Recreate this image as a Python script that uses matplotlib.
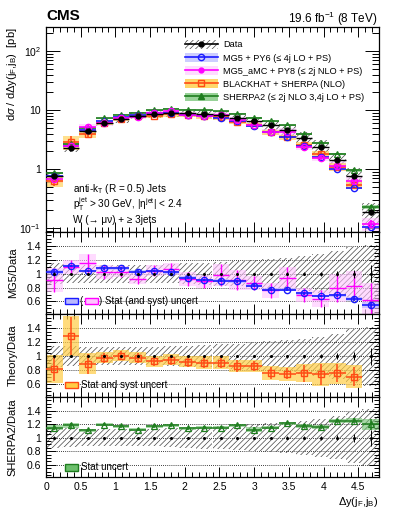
import numpy as np
import matplotlib
matplotlib.use('Agg')
import matplotlib.pyplot as plt
from matplotlib.patches import Patch, Rectangle
from matplotlib.lines import Line2D
from matplotlib.ticker import MultipleLocator, FixedLocator, LogLocator, NullFormatter, FuncFormatter

plt.rcParams['font.family'] = ['Liberation Sans', 'DejaVu Sans']
plt.rcParams['mathtext.fontset'] = 'custom'
plt.rcParams['mathtext.rm'] = 'Liberation Sans'
plt.rcParams['mathtext.it'] = 'Liberation Sans:italic'
plt.rcParams['mathtext.bf'] = 'Liberation Sans:bold'
plt.rcParams['hatch.linewidth'] = 0.5

# bins in delta y(jF, jB)
bin_centers = [0.12, 0.36, 0.60, 0.84, 1.08, 1.32, 1.56, 1.80, 2.04, 2.28,
               2.52, 2.76, 3.00, 3.24, 3.48, 3.72, 3.96, 4.20, 4.44, 4.68]
bin_width = 0.24

# measured cross section [pb]
data = [0.76, 2.25, 4.5, 6.1, 7.1, 8.1, 8.6, 8.9, 8.9, 8.7,
        8.3, 7.4, 6.5, 5.6, 4.6, 3.4, 2.4, 1.45, 0.76, 0.19]
data_syst = [0.15, 0.14, 0.13, 0.13, 0.13, 0.13, 0.13, 0.14, 0.15, 0.16,
             0.17, 0.18, 0.20, 0.21, 0.23, 0.25, 0.28, 0.32, 0.38, 0.42]
data_stat = [0.02, 0.015, 0.01, 0.01, 0.01, 0.01, 0.01, 0.01, 0.01, 0.01,
             0.01, 0.012, 0.014, 0.016, 0.02, 0.024, 0.03, 0.04, 0.06, 0.12]

# predictions [pb]
mg5 = [0.78, 2.50, 4.68, 6.59, 7.67, 8.34, 8.94, 9.08, 8.37, 7.92,
       7.47, 6.59, 5.40, 4.31, 3.54, 2.45, 1.63, 1.00, 0.48, 0.105]
amc = [0.69, 2.45, 5.18, 6.10, 7.24, 7.70, 8.86, 9.52, 8.37, 7.83,
       8.13, 6.73, 5.66, 4.26, 4.32, 2.35, 1.54, 1.15, 0.63, 0.118]
bh = [0.62, 2.90, 4.00, 5.98, 7.17, 7.94, 8.00, 8.46, 8.19, 7.92,
      7.55, 6.36, 5.59, 4.26, 3.45, 2.58, 1.78, 1.10, 0.54]
sherpa = [0.87, 2.66, 5.00, 7.26, 8.31, 9.07, 10.06, 10.5, 10.15, 10.0,
          9.55, 8.73, 7.28, 6.44, 5.57, 3.98, 2.78, 1.80, 0.95, 0.23]

# ratios to data
mg5_ratio = [1.03, 1.11, 1.04, 1.08, 1.08, 1.03, 1.04, 1.02, 0.94, 0.91,
             0.90, 0.89, 0.83, 0.77, 0.77, 0.72, 0.68, 0.69, 0.63, 0.55]
mg5_err = [0.03, 0.02, 0.02, 0.02, 0.02, 0.02, 0.02, 0.02, 0.02, 0.02,
           0.02, 0.02, 0.02, 0.02, 0.02, 0.02, 0.02, 0.02, 0.03, 0.04]
amc_ratio = [0.91, 1.09, 1.15, 1.02, 1.03, 0.93, 1.04, 1.07, 0.93, 0.89,
             0.98, 0.91, 0.87, 0.76, 0.94, 0.69, 0.64, 0.79, 0.83, 0.62]
amc_err = [0.17, 0.10, 0.14, 0.10, 0.08, 0.08, 0.08, 0.09, 0.10, 0.09,
           0.16, 0.14, 0.10, 0.11, 0.16, 0.10, 0.12, 0.20, 0.21, 0.25]
bh_ratio = [0.82, 1.29, 0.89, 0.98, 1.01, 0.98, 0.93, 0.95, 0.92, 0.91,
            0.91, 0.86, 0.86, 0.76, 0.75, 0.76, 0.74, 0.76, 0.71]
bh_err = [0.17, 0.27, 0.14, 0.07, 0.07, 0.07, 0.07, 0.07, 0.07, 0.08,
          0.08, 0.08, 0.07, 0.09, 0.08, 0.12, 0.15, 0.13, 0.13]
bh_band = [0.20, 0.28, 0.15, 0.08, 0.08, 0.08, 0.08, 0.08, 0.08, 0.09,
           0.09, 0.08, 0.08, 0.10, 0.10, 0.13, 0.16, 0.15, 0.16]
sherpa_ratio = [1.15, 1.18, 1.11, 1.19, 1.17, 1.12, 1.17, 1.18, 1.14, 1.15,
                1.15, 1.18, 1.12, 1.15, 1.21, 1.17, 1.16, 1.24, 1.25, 1.20]
sherpa_err = [0.04, 0.03, 0.02, 0.02, 0.02, 0.02, 0.02, 0.02, 0.02, 0.02,
              0.02, 0.02, 0.04, 0.02, 0.02, 0.03, 0.03, 0.03, 0.04, 0.08]

c_blue, b_blue = '#1a1aff', '#b8b8ff'
c_mag, b_mag = '#ff00ff', '#ffc4ff'
c_or, b_or = '#ff4a14', '#ffcc44'
c_gr, b_gr = '#1e7d1e', '#6cbf6c'
hatch_col = '#444444'

x = np.array(bin_centers)
d = np.array(data)
dsys = np.array(data_syst)


def boxes(ax, xs, lo, hi, **kw):
    lo, hi = np.array(lo), np.array(hi)
    ax.bar(xs, hi - lo, bottom=lo, width=bin_width, align='center', **kw)


def hatch_boxes(ax, xs, lo, hi):
    boxes(ax, xs, lo, hi, facecolor='none', edgecolor=hatch_col,
          hatch='//////', linewidth=0, zorder=1)


def style_axis(ax):
    ax.set_xlim(0, 4.8)
    ax.xaxis.set_major_locator(MultipleLocator(0.5))
    ax.xaxis.set_minor_locator(MultipleLocator(0.1))
    ax.tick_params(which='both', direction='in', top=True, right=True,
                   labelsize=7.5, width=0.7)
    ax.tick_params(which='major', length=7)
    ax.tick_params(which='minor', length=3.5)
    for s in ax.spines.values():
        s.set_linewidth(0.9)


fig = plt.figure(figsize=(3.99, 5.16), dpi=100)
W = 399.0
H = 516.0
left, right = 46 / W, 379 / W
ax0 = fig.add_axes([left, 1 - 232 / H, right - left, 205 / H])
ax1 = fig.add_axes([left, 1 - 314 / H, right - left, 82 / H])
ax2 = fig.add_axes([left, 1 - 397 / H, right - left, 83 / H])
ax3 = fig.add_axes([left, 1 - 477 / H, right - left, 80 / H])

# ---- main panel
ax0.set_yscale('log')
hatch_boxes(ax0, x, d * (1 - dsys), d * (1 + dsys))
boxes(ax0, x, np.array(mg5) * (1 - np.array(mg5_err)), np.array(mg5) * (1 + np.array(mg5_err)),
      color=b_blue, alpha=0.7, linewidth=0, zorder=2)
boxes(ax0, x, np.array(amc) * (1 - np.array(amc_err)), np.array(amc) * (1 + np.array(amc_err)),
      color=b_mag, alpha=0.6, linewidth=0, zorder=2)
boxes(ax0, x[:19], np.array(bh) * (1 - np.array(bh_band)), np.array(bh) * (1 + np.array(bh_band)),
      color=b_or, alpha=0.6, linewidth=0, zorder=2)
boxes(ax0, x, np.array(sherpa) * (1 - np.array(sherpa_err)), np.array(sherpa) * (1 + np.array(sherpa_err)),
      color=b_gr, alpha=0.6, linewidth=0, zorder=2)

ekw = dict(linestyle='none', elinewidth=1.2, capsize=0, markersize=4.5)
ax0.errorbar(x[:19], bh, xerr=bin_width / 2, yerr=np.array(bh) * np.array(bh_err), color=c_or,
             marker='s', mfc='none', mew=1.0, zorder=3, **ekw)
ax0.errorbar(x, mg5, xerr=bin_width / 2, yerr=np.array(mg5) * np.array(mg5_err), color=c_blue,
             marker='o', mfc='none', mew=1.0, zorder=3, **ekw)
ax0.errorbar(x, sherpa, xerr=bin_width / 2, yerr=np.array(sherpa) * np.array(sherpa_err), color=c_gr,
             marker='^', mfc='none', mew=0.9, zorder=3, **ekw)
ax0.errorbar(x, amc, xerr=bin_width / 2, yerr=np.array(amc) * np.array(amc_err) * 0.6, color=c_mag,
             marker='o', mfc='none', mew=1.0, zorder=4, **ekw)
ax0.errorbar(x, data, xerr=bin_width / 2, yerr=d * np.array(data_stat), color='black',
             marker='o', markersize=3.5, linestyle='none', elinewidth=1.0, capsize=0, zorder=5)

ax0.set_ylim(0.086, 257)
style_axis(ax0)
ax0.yaxis.set_major_locator(LogLocator(base=10, numticks=10))
ax0.yaxis.set_minor_locator(LogLocator(base=10, subs=np.arange(2, 10), numticks=20))
ax0.yaxis.set_minor_formatter(NullFormatter())
ax0.yaxis.set_major_formatter(FuncFormatter(
    lambda v, p: {0.1: '10$^{-1}$', 1: '1', 10: '10', 100: '10$^{2}$'}.get(round(v, 3), '')))
ax0.tick_params(which='major', axis='y', length=10)
ax0.tick_params(which='minor', axis='y', length=5)
ax0.set_xticklabels([])
ax0.set_ylabel(r'd$\sigma$ / d$\Delta$y(j$_{\rm F}$,j$_{\rm B}$)  [pb]', fontsize=8)
ax0.yaxis.set_label_coords(-0.082, 1.0)
ax0.yaxis.label.set_horizontalalignment('right')

handles = [
    (Patch(facecolor='none', edgecolor=hatch_col, hatch='//////', linewidth=0),
     Line2D([], [], color='black', marker='o', markersize=3.5, lw=1.2)),
    (Patch(facecolor=b_blue, alpha=0.7, linewidth=0),
     Line2D([], [], color=c_blue, marker='o', mfc='none', markersize=4.5, lw=1.2)),
    (Patch(facecolor=b_mag, alpha=0.6, linewidth=0),
     Line2D([], [], color=c_mag, marker='o', markersize=3.5, lw=1.2)),
    (Patch(facecolor=b_or, alpha=0.8, linewidth=0),
     Line2D([], [], color=c_or, marker='s', mfc='none', markersize=4.5, lw=1.2)),
    (Patch(facecolor=b_gr, alpha=0.7, linewidth=0),
     Line2D([], [], color=c_gr, marker='^', markersize=4.5, lw=1.2)),
]
labels = ['Data',
          'MG5 + PY6 (\u2264 4j LO + PS)',
          'MG5_aMC + PY8 (\u2264 2j NLO + PS)',
          'BLACKHAT + SHERPA (NLO)',
          'SHERPA2 (\u2264 2j NLO 3,4j LO + PS)']
ax0.legend(handles, labels, loc='upper left', bbox_to_anchor=(0.405, 0.955), frameon=False,
           fontsize=6.6, handlelength=3.6, handletextpad=0.6, labelspacing=0.4,
           borderaxespad=0.0, handleheight=1.1)

ax0.text(0.08, 0.212, 'anti-k$_{\\rm T}$ (R = 0.5) Jets', transform=ax0.transAxes,
         fontsize=7.2, va='center')
ax0.text(0.08, 0.135, 'p$_{\\rm T}^{\\rm jet}$ > 30 GeV, |\u03b7$^{\\rm jet}$| < 2.4',
         transform=ax0.transAxes, fontsize=7.2, va='center')
ax0.text(0.08, 0.06, 'W (\u2192 \u03bc\u03bd) + \u2265 3jets', transform=ax0.transAxes,
         fontsize=7.2, va='center')

fig.text(46 / W, 1 - 16 / H, 'CMS', fontsize=11, fontweight='bold', va='center', ha='left')
fig.text(378 / W, 1 - 19 / H, '19.6 fb$^{-1}$ (8 TeV)', fontsize=8.5, va='center', ha='right')


# ---- ratio panels
def ratio_axis(ax, label):
    hatch_boxes(ax, x, 1 - dsys, 1 + dsys)
    for yv in [0.6, 0.8, 1.0, 1.2, 1.4]:
        ax.axhline(yv, color='black', linestyle=(0, (1, 1.5)), linewidth=0.6, zorder=0)
    ax.errorbar(x, np.ones(len(x)), yerr=data_stat, color='black', marker='o', markersize=1.2,
                linestyle='none', elinewidth=0.7, capsize=0, zorder=5)
    style_axis(ax)
    ax.set_ylim(0.42, 1.6)
    ax.yaxis.set_major_locator(FixedLocator([0.6, 0.8, 1.0, 1.2, 1.4]))
    ax.yaxis.set_minor_locator(MultipleLocator(0.05))
    ax.yaxis.set_major_formatter(FuncFormatter(lambda v, p: '%g' % v))
    ax.set_ylabel(label, fontsize=8)
    ax.yaxis.set_label_coords(-0.085, 0.5)


def legend_box(ax, xf, yf, fc, ec):
    ax.add_patch(Rectangle((xf, yf - 0.04), 0.038, 0.08, transform=ax.transAxes,
                           facecolor=fc, edgecolor=ec, linewidth=1.0, zorder=6))


ratio_axis(ax1, 'MG5/Data')
boxes(ax1, x, np.array(amc_ratio) - np.array(amc_err), np.array(amc_ratio) + np.array(amc_err),
      color=b_mag, alpha=0.6, linewidth=0, zorder=2)
boxes(ax1, x, np.array(mg5_ratio) - np.array(mg5_err), np.array(mg5_ratio) + np.array(mg5_err),
      color=b_blue, alpha=0.7, linewidth=0, zorder=2)
ax1.errorbar(x, amc_ratio, xerr=bin_width / 2, yerr=amc_err, color=c_mag, linestyle='none',
             elinewidth=1.0, capsize=0, zorder=3)
ax1.errorbar(x, mg5_ratio, xerr=bin_width / 2, yerr=mg5_err, color=c_blue, marker='o',
             mfc='none', mew=1.0, markersize=4.5, linestyle='none', elinewidth=1.2, capsize=0, zorder=4)
legend_box(ax1, 0.057, 0.16, b_blue, c_blue)
ax1.text(0.101, 0.16, '(', transform=ax1.transAxes, fontsize=7, va='center')
legend_box(ax1, 0.117, 0.16, b_mag, c_mag)
ax1.text(0.158, 0.16, ') Stat (and syst) uncert', transform=ax1.transAxes, fontsize=7, va='center')
ax1.set_xticklabels([])

ratio_axis(ax2, 'Theory/Data')
boxes(ax2, x[:19], np.array(bh_ratio) - np.array(bh_band), np.array(bh_ratio) + np.array(bh_band),
      color=b_or, alpha=0.7, linewidth=0, zorder=2)
ax2.errorbar(x[:19], bh_ratio, xerr=bin_width / 2, yerr=bh_err, color=c_or, marker='s',
             mfc='none', mew=1.0, markersize=4.5, linestyle='none', elinewidth=1.1, capsize=0, zorder=4)
legend_box(ax2, 0.057, 0.145, b_or, c_or)
ax2.text(0.105, 0.145, 'Stat and syst uncert', transform=ax2.transAxes, fontsize=7, va='center')
ax2.set_xticklabels([])

ratio_axis(ax3, 'SHERPA2/Data')
boxes(ax3, x, np.array(sherpa_ratio) - np.array(sherpa_err), np.array(sherpa_ratio) + np.array(sherpa_err),
      color=b_gr, alpha=0.6, linewidth=0, zorder=2)
ax3.errorbar(x, sherpa_ratio, xerr=bin_width / 2, yerr=sherpa_err, color=c_gr, marker='^',
             mfc='none', mew=0.9, markersize=4.5, linestyle='none', elinewidth=1.1, capsize=0, zorder=4)
legend_box(ax3, 0.057, 0.12, b_gr, c_gr)
ax3.text(0.105, 0.12, 'Stat uncert', transform=ax3.transAxes, fontsize=7, va='center')
ax3.xaxis.set_major_formatter(FuncFormatter(lambda v, p: '%g' % v))
ax3.set_xlabel(r'$\Delta$y(j$_{\rm F}$,j$_{\rm B}$)', fontsize=8, labelpad=2)
ax3.xaxis.set_label_coords(1.0, -0.22)
ax3.xaxis.label.set_horizontalalignment('right')

fig.savefig('out.png', dpi=100)
